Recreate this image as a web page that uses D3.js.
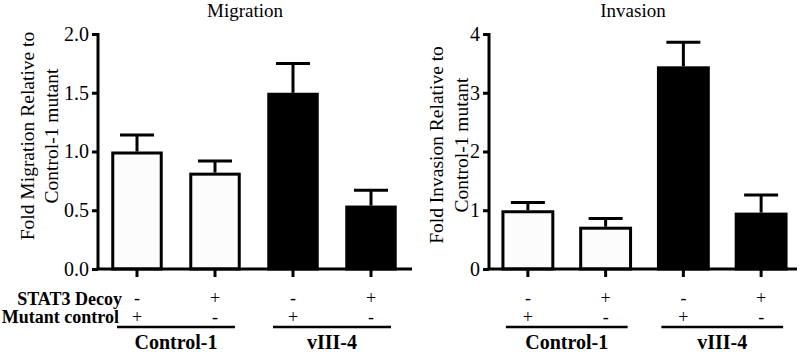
<!DOCTYPE html>
<html><head><meta charset="utf-8">
<script src="https://cdn.jsdelivr.net/npm/d3@7"></script>
<style>body{margin:0;background:#fff}svg{display:block}</style>
</head><body><svg id="c" width="800" height="352"></svg>
<script>
// ---- data ----
const conditions = ["Control-1 mutant", "Control-1 decoy", "vIII-4 mutant", "vIII-4 decoy"];
const cellLine = ["Control-1", "Control-1", "vIII-4", "vIII-4"];
const decoyRow = ["-", "+", "-", "+"];
const mutantRow = ["+", "-", "+", "-"];
const groupNames = ["Control-1", "vIII-4"];
const migrationMean = [1.00, 0.82, 1.50, 0.54];
const migrationSem = [0.14, 0.10, 0.25, 0.13];
const invasionMean = [1.00, 0.72, 3.45, 0.96];
const invasionSem = [0.13, 0.14, 0.41, 0.30];
const migrationTicks = [0, 0.5, 1.0, 1.5, 2.0];
const invasionTicks = [0, 1, 2, 3, 4];

const svg = d3.select("#c");
const serif = "'Liberation Serif','Times New Roman',serif";

function panel(cfg) {
  const g = svg.append("g");
  const x = d3.scaleBand().domain(conditions).range([cfg.x0, cfg.x1])
    .paddingInner(cfg.pi).paddingOuter(cfg.pi / 2);
  const y = d3.scaleLinear().domain(cfg.domain).range([269, 34]);

  // bars
  g.selectAll("rect.bar").data(conditions).join("rect")
    .attr("x", d => x(d) + 1.5)
    .attr("width", x.bandwidth() - 3)
    .attr("y", (d, i) => y(cfg.mean[i]) + 1.5)
    .attr("height", (d, i) => y(0) - y(cfg.mean[i]) - 1.5)
    .attr("fill", (d, i) => cellLine[i] === "Control-1" ? "#fcfcfc" : "#000")
    .attr("stroke", "#000").attr("stroke-width", 3);

  // error bars
  const eb = g.selectAll("g.err").data(conditions).join("g");
  eb.append("line")
    .attr("x1", d => x(d) + x.bandwidth() / 2).attr("x2", d => x(d) + x.bandwidth() / 2)
    .attr("y1", (d, i) => y(cfg.mean[i])).attr("y2", (d, i) => y(cfg.mean[i] + cfg.sem[i]))
    .attr("stroke", "#000").attr("stroke-width", 3);
  eb.append("line")
    .attr("x1", d => x(d) + x.bandwidth() / 2 - cfg.cap / 2)
    .attr("x2", d => x(d) + x.bandwidth() / 2 + cfg.cap / 2)
    .attr("y1", (d, i) => y(cfg.mean[i] + cfg.sem[i])).attr("y2", (d, i) => y(cfg.mean[i] + cfg.sem[i]))
    .attr("stroke", "#000").attr("stroke-width", 3);

  // y axis
  const ya = g.append("g").attr("transform", `translate(${cfg.x0},0)`)
    .call(d3.axisLeft(y).tickValues(cfg.ticks).tickFormat(cfg.fmt).tickSize(6).tickPadding(3).tickSizeOuter(0));
  ya.attr("font-family", serif).attr("font-size", 20);
  ya.select(".domain").attr("stroke-width", 3).attr("d", `M0,${y(cfg.domain[1]) - 1}V${y(0)}`);
  ya.selectAll(".tick line").attr("stroke-width", 3);
  ya.selectAll(".tick text").attr("font-family", serif).attr("font-size", 20).attr("fill", "#000");

  // x axis
  const xa = g.append("g").attr("transform", `translate(0,${y(0)})`)
    .call(d3.axisBottom(x).tickSize(8).tickSizeOuter(0).tickFormat(""));
  xa.select(".domain").attr("stroke-width", 3).attr("d", `M${cfg.x0 - 1.5},0H${cfg.xEnd}`);
  xa.selectAll(".tick line").attr("stroke-width", 3);

  // sign rows
  g.selectAll("text.dec").data(conditions).join("text")
    .attr("x", d => x(d) + x.bandwidth() / 2).attr("y", 304)
    .attr("text-anchor", "middle").attr("font-family", serif).attr("font-size", 18)
    .text((d, i) => decoyRow[i]);
  g.selectAll("text.mut").data(conditions).join("text")
    .attr("x", d => x(d) + x.bandwidth() / 2).attr("y", 323)
    .attr("text-anchor", "middle").attr("font-family", serif).attr("font-size", 18)
    .text((d, i) => mutantRow[i]);

  // group underline + labels
  groupNames.forEach(gn => {
    const members = conditions.filter((c, i) => cellLine[i] === gn);
    const a = x(members[0]) + x.bandwidth() / 2 - cfg.lineExt;
    const b = x(members[members.length - 1]) + x.bandwidth() / 2 + cfg.lineExt;
    g.append("line").attr("x1", a).attr("x2", b).attr("y1", 327).attr("y2", 327)
      .attr("stroke", "#000").attr("stroke-width", 2.5);
    g.append("text").attr("x", (a + b) / 2).attr("y", 349)
      .attr("text-anchor", "middle").attr("font-family", serif).attr("font-size", 20)
      .attr("font-weight", "bold").text(gn);
  });

  // title
  g.append("text").attr("x", cfg.titleX).attr("y", 17).attr("text-anchor", "middle")
    .attr("font-family", serif).attr("font-size", 19).text(cfg.title);

  // y title
  const yt = g.append("text").attr("font-family", serif).attr("font-size", 19.5)
    .attr("text-anchor", "middle")
    .attr("transform", `translate(0,${cfg.ytY}) rotate(-90)`);
  yt.append("tspan").attr("x", 0).attr("y", cfg.yt1).text(cfg.ytitle[0]);
  yt.append("tspan").attr("x", 0).attr("y", cfg.yt2).text(cfg.ytitle[1]);
  return x;
}

panel({
  x0: 98, x1: 410, xEnd: 412, pi: 0.34, domain: [0, 2], ticks: migrationTicks,
  fmt: d3.format(".1f"), mean: migrationMean, sem: migrationSem, cap: 34, lineExt: 20,
  title: "Migration", titleX: 245, ytY: 136, yt1: 34, yt2: 58,
  ytitle: ["Fold Migration Relative to", "Control-1 mutant"]
});
panel({
  x0: 489, x1: 800, xEnd: 797, pi: 0.32, domain: [0, 4], ticks: invasionTicks,
  fmt: d3.format("d"), mean: invasionMean, sem: invasionSem, cap: 34, lineExt: 22,
  title: "Invasion", titleX: 633, ytY: 145, yt1: 443, yt2: 468,
  ytitle: ["Fold Invasion Relative to", "Control-1 mutant"]
});

// row labels (left panel)
svg.append("text").attr("x", 122).attr("y", 305).attr("text-anchor", "end")
  .attr("font-family", serif).attr("font-size", 18).attr("font-weight", "bold").text("STAT3 Decoy");
svg.append("text").attr("x", 119).attr("y", 323).attr("text-anchor", "end")
  .attr("font-family", serif).attr("font-size", 18).attr("font-weight", "bold").text("Mutant control");
</script></body></html>
